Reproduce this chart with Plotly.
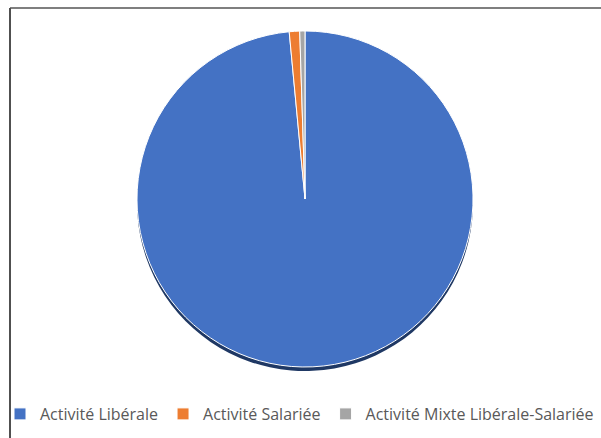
import plotly.graph_objects as go

labels = ["Activité Libérale", "Activité Salariée", "Activité Mixte Libérale-Salariée"]
values = [98.5, 1.0, 0.5]
colors = ["#4472C4", "#ED7D31", "#A5A5A5"]
shadow_color = "#1F3864"

W, H = 601, 438
cx, cy, r = 305, 199, 168

def dom(cx, cy, r):
    return dict(x=[(cx - r) / W, (cx + r) / W], y=[1 - (cy + r) / H, 1 - (cy - r) / H])

fig = go.Figure()
fig.add_trace(go.Pie(
    labels=labels, values=values, sort=False, direction="clockwise", rotation=0,
    marker=dict(colors=[shadow_color] * 3, line=dict(width=0)),
    textinfo="none", hoverinfo="skip", showlegend=False,
    domain=dom(cx, cy + 4, r),
))
fig.add_trace(go.Pie(
    labels=labels, values=values, sort=False, direction="clockwise", rotation=0,
    marker=dict(colors=colors, line=dict(color="white", width=1)),
    textinfo="none", showlegend=True,
    domain=dom(cx, cy, r),
))

fig.update_layout(
    width=W, height=H,
    margin=dict(l=0, r=0, t=0, b=0, autoexpand=False),
    paper_bgcolor="white",
    font=dict(family="Open Sans, Noto Sans, sans-serif", color="#595959", size=16),
    legend=dict(orientation="h", x=0.0, y=1 - 414 / H, yanchor="middle", xanchor="left",
                itemwidth=30, font=dict(size=16, color="#595959"),
                bgcolor="rgba(0,0,0,0)", traceorder="normal"),
    shapes=[
        dict(type="line", xref="paper", yref="paper", x0=10 / W, x1=1.05, y0=1 - 8 / H, y1=1 - 8 / H,
             line=dict(color="#7F7F7F", width=2), layer="above"),
        dict(type="line", xref="paper", yref="paper", x0=10 / W, x1=10 / W, y0=1 - 8 / H, y1=-0.1,
             line=dict(color="#505050", width=2), layer="above"),
    ],
)

fig.write_html("out.html")
